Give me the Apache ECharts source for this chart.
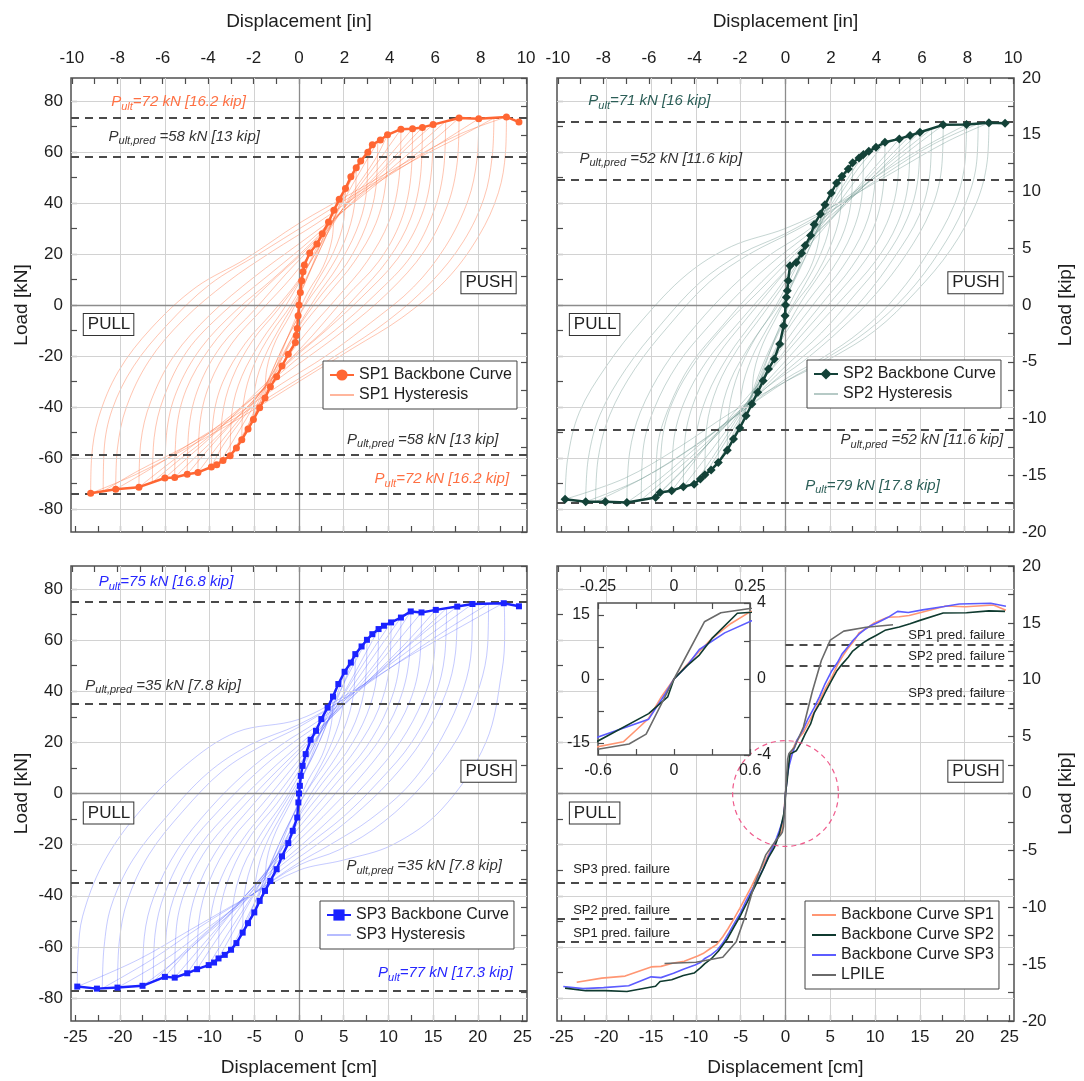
<!DOCTYPE html>
<html><head><meta charset="utf-8">
<script src="https://cdn.jsdelivr.net/npm/echarts@6/dist/echarts.min.js"></script>
<style>html,body{margin:0;padding:0;background:#fff}#c{width:1084px;height:1081px}</style>
</head><body><div id="c"></div>
<script>
const FONT = '"Liberation Sans", Arial, sans-serif';
// ---------- tick labels ----------
const cmLabels=[-25,-20,-15,-10,-5,0,5,10,15,20,25];
const cmTicks=[-25,-22.5,-20,-17.5,-15,-12.5,-10,-7.5,-5,-2.5,0,2.5,5,7.5,10,12.5,15,17.5,20,22.5,25];
const inLabels=[-10,-8,-6,-4,-2,0,2,4,6,8,10];
const inTicks=[-10,-9,-8,-7,-6,-5,-4,-3,-2,-1,0,1,2,3,4,5,6,7,8,9,10];
const kNLabels=[-80,-60,-40,-20,0,20,40,60,80];
const kNTicks=[-80,-70,-60,-50,-40,-30,-20,-10,0,10,20,30,40,50,60,70,80];
const kipLabels=[-20,-15,-10,-5,0,5,10,15,20];
const kipTicks=[-20,-17.5,-15,-12.5,-10,-7.5,-5,-2.5,0,2.5,5,7.5,10,12.5,15,17.5,20];
const gridXVals=[-20,-15,-10,-5,5,10,15,20];
const gridYVals=[-80,-60,-40,-20,20,40,60,80];
const insetCmLabels=[-0.6,0,0.6], insetCmTicks=[-0.6,-0.3,0,0.3,0.6];
const insetInLabels=[-0.25,0,0.25], insetInTicks=[-0.25,-0.125,0,0.125,0.25];
const insetKNLabels=[-15,0,15], insetKNTicks=[-15,-7.5,0,7.5,15];
const insetKipLabels=[-4,0,4], insetKipTicks=[-4,-2,0,2,4];

// ---------- backbone curves [cm, kN] ----------
const sp1Backbone=[[-23.3,-73.8],[-20.5,-72.2],[-17.9,-71.4],[-15.0,-67.8],[-13.9,-67.6],[-12.5,-66.3],[-11.3,-65.6],[-9.8,-63.5],[-9.2,-62.6],[-8.5,-60.9],[-7.7,-59.1],[-7.0,-56.0],[-6.4,-52.8],[-5.7,-48.6],[-5.1,-44.9],[-4.4,-40.3],[-3.8,-36.4],[-3.2,-32.0],[-2.5,-28.1],[-1.9,-23.9],[-1.2,-19.3],[-0.4,-14.7],[-0.3,-12],[-0.2,-9.2],[-0.1,-4.2],[0,0],[0.15,4.9],[0.3,9.5],[0.45,13],[0.6,15.7],[1.2,20.4],[2.0,23.9],[2.6,27.9],[3.3,32.5],[3.9,37.1],[4.5,41.4],[5.2,45.7],[5.8,50.3],[6.4,53.8],[6.9,56.4],[7.7,59.9],[8.2,62.8],[9.1,64.7],[9.9,66.7],[11.4,68.9],[12.7,69.1],[13.8,69.6],[15.0,70.7],[17.9,73.3],[20.1,73.0],[23.2,73.7],[24.6,71.7]];
const sp2Backbone=[[-24.6,-76.1],[-22.3,-77.1],[-20.1,-77.1],[-17.7,-77.4],[-14.5,-75.4],[-14.0,-73.5],[-12.7,-72.8],[-11.4,-71.2],[-10.2,-70.2],[-9.5,-68.2],[-9.0,-66.5],[-8.3,-64.7],[-7.5,-61.7],[-6.5,-56.9],[-5.8,-52.5],[-5.1,-48.2],[-4.4,-43.4],[-3.75,-38.8],[-3.1,-34.2],[-2.5,-29.7],[-1.9,-25.1],[-1.25,-21.2],[-0.65,-15.3],[-0.2,-8.1],[-0.05,-4.2],[0,0],[0.1,3.0],[0.2,5.6],[0.3,9.5],[0.5,15.4],[1.2,16.7],[1.8,20.3],[2.2,23.3],[2.8,27.2],[3.2,31.5],[3.9,35.7],[4.4,39.3],[5.1,43.9],[5.7,47.8],[6.3,50.5],[7.0,53.3],[7.5,55.7],[8.2,57.6],[8.7,59.0],[9.3,60.3],[10.1,61.8],[11.1,63.8],[12.7,65.1],[13.9,66.4],[15.0,67.7],[17.6,70.6],[20.2,70.7],[22.7,71.4],[24.5,71.2]];
const sp3Backbone=[[-24.8,-75.5],[-22.6,-76.3],[-20.3,-75.9],[-17.5,-75.2],[-15.0,-71.7],[-13.9,-72.0],[-12.5,-70.3],[-11.4,-68.7],[-10.1,-67.1],[-9.5,-66.1],[-9.0,-64.5],[-8.3,-63.1],[-7.6,-61.1],[-7.0,-58.5],[-6.3,-54.4],[-5.7,-50.7],[-5.0,-46.5],[-4.4,-42.0],[-3.8,-38.1],[-3.2,-34.2],[-2.5,-29.6],[-1.9,-24.6],[-1.2,-19.4],[-0.7,-14.6],[-0.2,-9.4],[-0.07,-3.5],[0,0],[0.1,3.0],[0.2,6.9],[0.4,10.8],[0.75,15.4],[1.3,21.0],[1.9,24.5],[2.5,29.1],[3.2,33.6],[3.8,37.9],[4.4,42.8],[5.1,47.6],[5.8,51.2],[6.3,54.5],[7.0,57.5],[7.6,60.1],[8.2,62.3],[8.9,64.3],[9.5,65.6],[10.3,66.9],[11.4,68.8],[12.5,71.2],[13.7,70.8],[15.3,71.8],[17.7,73.1],[19.4,74.1],[22.9,74.4],[24.6,73.2]];
const lpile=[[-13.5,-66.5],[-10,-66],[-7,-64],[-5.5,-58],[-4.5,-48],[-3.5,-36],[-2.2,-24],[-1,-18],[-0.59,-16.4],[-0.355,-15.2],[-0.22,-12.9],[0,0],[0.24,13.4],[0.37,15.5],[0.6,16.5],[1,18],[2,26],[3,40],[4,52],[5,60],[6.5,63.5],[9,65],[12,66]];

// ---------- hysteresis loops [cm, kN] (reloading branch then unloading branch) ----------
const sp1Loops=[
[[-23.3,-73.8],[-23.2,-60],[-22.4,-44],[-20.2,-26],[-16.5,-9],[-11.5,7],[-6,18],[0,32],[6,44],[12,56],[18,67],[23.2,73.7],[23.1,60],[22.3,44],[20.1,27],[16.5,10],[11.5,-5],[6,-17],[0,-30],[-6,-43],[-12,-55],[-18,-66],[-23.3,-73.8]],
[[-21.9,-73],[-21.8,-57],[-20.9,-41],[-18.5,-24],[-14.8,-8],[-10,8],[-4.5,20],[1,32],[7,45],[13,57],[18,66],[21.8,73.3],[21.6,58],[20.7,42],[18.4,25],[14.8,9],[10,-6],[4.5,-19],[-1,-31],[-7,-44],[-13,-56],[-18,-65],[-21.9,-73]],
[[-20.5,-72.2],[-20.3,-56],[-19.3,-40],[-16.8,-22],[-13,-6],[-8,9],[-3,21],[2,32],[7,44],[12,55],[16.5,65],[20.1,73],[19.9,57],[18.9,41],[16.4,23],[12.8,7],[8,-7],[3,-20],[-2,-31],[-7,-43],[-12,-54],[-16.5,-64],[-20.5,-72.2]],
[[-17.9,-71.4],[-17.7,-54],[-16.6,-38],[-14,-20],[-10,-4],[-5,11],[0,24],[5,37],[10,51],[14.5,63],[17.9,73.3],[17.7,56],[16.6,39],[14,21],[10,5],[5,-10],[0,-23],[-5,-36],[-10,-50],[-14.5,-62],[-17.9,-71.4]],
[[-16.4,-69.5],[-16.2,-52],[-15.1,-36],[-12.5,-18],[-8.5,-3],[-4,10],[0.5,23],[5,37],[9.5,51],[13.5,63],[16.4,72],[16.2,54],[15.1,37],[12.5,19],[8.5,4],[4,-10],[-0.5,-22],[-5,-36],[-9.5,-50],[-13.5,-61],[-16.4,-69.5]],
[[-15,-67.8],[-14.8,-50],[-13.7,-34],[-11,-17],[-7,-2],[-3,10],[1,23],[5,37],[9,51],[12.5,63],[15,70.7],[14.8,52],[13.7,35],[11,18],[7,3],[3,-10],[-1,-22],[-5,-35],[-9,-49],[-12.5,-60],[-15,-67.8]],
[[-13.9,-67.6],[-13.7,-49],[-12.6,-33],[-10,-17],[-6.3,-2],[-2.5,11],[1.5,24],[5,38],[9,52],[12,63],[13.8,69.6],[13.6,51],[12.5,34],[10,18],[6.3,3],[2.5,-11],[-1.5,-23],[-5,-37],[-9,-51],[-12,-61],[-13.9,-67.6]],
[[-12.5,-66.3],[-12.3,-48],[-11.2,-32],[-8.7,-16],[-5,-2],[-1.5,12],[2,25],[5.5,40],[9,54],[12.7,69.1],[12.5,50],[11.4,33],[8.9,17],[5.2,3],[1.5,-12],[-2,-25],[-5.5,-39],[-9,-52],[-12.5,-66.3]],
[[-11.3,-65.6],[-11.1,-47],[-10,-31],[-7.5,-15],[-4.2,-2],[-0.8,11],[2.5,26],[5.8,42],[8.8,56],[11.4,68.9],[11.2,50],[10.1,33],[7.6,17],[4.3,3],[0.8,-11],[-2.5,-26],[-5.8,-41],[-8.8,-54],[-11.3,-65.6]],
[[-9.8,-63.5],[-9.6,-45],[-8.5,-30],[-6,-15],[-3,-3],[0,10],[3,27],[6,44],[8.5,57],[9.9,66.7],[9.7,48],[8.6,32],[6.2,17],[3.2,4],[0,-10],[-3,-27],[-6,-43],[-8.5,-55],[-9.8,-63.5]],
[[-8.8,-61.5],[-8.6,-44],[-7.5,-29],[-5.2,-14],[-2.4,-2],[0.3,11],[3,28],[5.8,46],[8.8,64],[8.6,46],[7.5,31],[5.3,16],[2.5,4],[-0.3,-10],[-3,-27],[-5.8,-44],[-8.8,-61.5]],
[[-7.7,-59.1],[-7.5,-42],[-6.4,-28],[-4.2,-14],[-1.8,-2],[0.5,12],[3,30],[5.5,47],[7.7,59.9],[7.5,43],[6.4,29],[4.3,15],[1.9,3],[-0.5,-11],[-3,-29],[-5.5,-46],[-7.7,-59.1]],
[[-6.4,-52.8],[-6.2,-38],[-5.1,-24],[-3.1,-11],[-0.9,0],[1.3,14],[3.8,33],[6.4,53.8],[6.2,39],[5.1,25],[3.1,12],[0.9,1],[-1.3,-13],[-3.8,-32],[-6.4,-52.8]],
[[-5.1,-44.9],[-4.9,-32],[-3.8,-20],[-2,-8],[0,4],[2,19],[3.8,33],[5.2,45.7],[5,33],[3.9,21],[2,9],[0,-4],[-2,-18],[-3.7,-32],[-5.1,-44.9]],
[[-3.8,-36.4],[-3.6,-25],[-2.6,-14],[-1,-4],[0.6,8],[2.2,22],[3.9,37.1],[3.7,26],[2.7,15],[1,5],[-0.6,-7],[-2.2,-21],[-3.8,-36.4]]
];
const sp2Loops=[
[[-24.6,-76.1],[-24.3,-60],[-23,-42],[-20,-24],[-16,-6],[-11,12],[-6,23],[0,30],[6,40],[12,52],[18,64],[22.7,71.4],[22.5,56],[21.3,40],[18.5,22],[14.5,5],[10,-10],[5,-21],[0,-30],[-6,-42],[-12,-56],[-18,-68],[-24.6,-76.1]],
[[-22.3,-77.1],[-22,-60],[-20.7,-43],[-17.8,-25],[-14,-8],[-9.5,9],[-5,20],[0,28],[5,38],[10,50],[15.5,62],[20.2,70.7],[20,55],[18.8,39],[16,21],[12.5,4],[8.5,-10],[4,-21],[0,-29],[-5,-42],[-10,-55],[-16,-68],[-22.3,-77.1]],
[[-21.2,-77.1],[-20.9,-60],[-19.6,-43],[-16.8,-25],[-13,-8],[-8.5,9],[-4,20],[1,29],[6,39],[11,51],[16.5,63],[21.5,71],[21.3,55],[20,39],[17.2,21],[13.5,4],[9.2,-10],[4.5,-21],[0,-30],[-5,-42],[-10.5,-56],[-16,-68],[-21.2,-77.1]],
[[-17.7,-77.4],[-17.4,-58],[-16.2,-42],[-13.5,-24],[-10,-8],[-6,7],[-2,19],[2,28],[6,39],[10,50],[14,61],[17.6,70.6],[17.4,53],[16.2,37],[13.5,20],[10,4],[6,-10],[2,-22],[-2,-32],[-6,-44],[-10,-56],[-14,-68],[-17.7,-77.4]],
[[-16.1,-76.4],[-15.9,-57],[-14.7,-41],[-12,-23],[-8.5,-8],[-4.8,6],[-1,18],[3,29],[7,41],[11,54],[16.3,69],[16.1,51],[14.9,35],[12.2,19],[8.8,3],[5,-11],[1,-23],[-3,-35],[-7,-48],[-11,-61],[-16.1,-76.4]],
[[-14.5,-75.4],[-14.3,-56],[-13,-40],[-10.5,-23],[-7,-8],[-3.5,6],[0,18],[4,30],[8,44],[12,58],[15,67.7],[14.8,50],[13.6,34],[11,18],[7.5,3],[4,-11],[0,-24],[-4,-38],[-8,-52],[-11.5,-65],[-14.5,-75.4]],
[[-14,-73.5],[-13.8,-54],[-12.6,-38],[-10,-22],[-6.5,-7],[-2.8,6],[0.8,19],[4.5,32],[8.5,47],[13.9,66.4],[13.7,48],[12.5,32],[10,17],[6.5,3],[2.8,-11],[-0.8,-25],[-4.5,-39],[-8.5,-54],[-14,-73.5]],
[[-12.7,-72.8],[-12.5,-54],[-11.3,-38],[-8.8,-22],[-5.5,-8],[-2,6],[1.5,19],[5,33],[9,50],[12.7,65.1],[12.5,48],[11.3,32],[8.8,17],[5.5,3],[2,-11],[-1.5,-25],[-5,-39],[-9,-56],[-12.7,-72.8]],
[[-11.4,-71.2],[-11.2,-52],[-10,-36],[-7.6,-20],[-4.5,-6],[-1.2,8],[2,22],[5.3,37],[8.5,52],[11.1,63.8],[10.9,46],[9.8,30],[7.4,15],[4.4,2],[1.2,-12],[-2,-27],[-5.3,-43],[-8.5,-58],[-11.4,-71.2]],
[[-10.2,-70.2],[-10,-52],[-8.8,-36],[-6.4,-20],[-3.5,-6],[-0.5,8],[2.5,24],[5.5,40],[8,53],[10.1,61.8],[9.9,45],[8.8,30],[6.4,15],[3.5,2],[0.5,-12],[-2.5,-28],[-5.5,-45],[-8,-59],[-10.2,-70.2]],
[[-9,-66.5],[-8.8,-48],[-7.6,-32],[-5.3,-17],[-2.6,-4],[0,9],[2.6,24],[5.4,41],[8.7,59],[8.5,42],[7.4,28],[5.2,14],[2.6,2],[0,-11],[-2.6,-28],[-5.4,-46],[-9,-66.5]],
[[-7.5,-61.7],[-7.3,-45],[-6.2,-30],[-4,-16],[-1.7,-4],[0.5,10],[2.8,26],[5.2,42],[7.5,55.7],[7.3,40],[6.2,26],[4,13],[1.7,1],[-0.5,-13],[-2.8,-29],[-5.2,-46],[-7.5,-61.7]],
[[-6.5,-56.9],[-6.3,-41],[-5.2,-26],[-3.2,-12],[-1,-1],[1.2,12],[3.7,30],[6.3,50.5],[6.1,36],[5,23],[3.1,10],[1,0],[-1.2,-14],[-3.7,-35],[-6.5,-56.9]],
[[-5.1,-48.2],[-4.9,-34],[-3.8,-21],[-2,-9],[0,3],[2,17],[3.7,31],[5.1,43.9],[4.9,31],[3.8,19],[2,7],[0,-5],[-2,-19],[-3.7,-34],[-5.1,-48.2]],
[[-3.75,-38.8],[-3.5,-26],[-2.5,-15],[-0.9,-4],[0.6,7],[2.2,21],[3.9,35.7],[3.7,25],[2.7,14],[1,4],[-0.6,-8],[-2.2,-23],[-3.75,-38.8]]
];
const sp3Loops=[
[[-24.8,-75.5],[-24.7,-62],[-24.2,-48],[-22,-28],[-18.3,-9],[-12.7,11],[-7,24],[0,29],[6,40],[12,53],[18,65],[22.9,74.4],[23,62],[22.7,48],[20.9,20],[16,-6],[10.5,-20],[5,-26],[0,-30],[-6,-41],[-12,-53],[-18,-65],[-24.8,-75.5]],
[[-22,-76.2],[-21.8,-60],[-21,-44],[-18.6,-26],[-14.8,-9],[-10.2,8],[-5.5,19],[0,27],[5.5,38],[11,51],[16.5,64],[21.2,74.2],[21.1,58],[20.2,42],[17.8,22],[14,4],[9.5,-11],[4.5,-22],[0,-28],[-5.5,-40],[-11,-52],[-16.5,-65],[-22,-76.2]],
[[-20.3,-75.9],[-20.1,-58],[-19.2,-42],[-16.8,-24],[-13,-7],[-8.5,9],[-4,19],[0,26],[5,37],[10,50],[15,63],[19.4,74.1],[19.3,57],[18.4,41],[16,22],[12.5,4],[8,-10],[3.5,-20],[0,-27],[-5,-39],[-10,-52],[-15,-65],[-20.3,-75.9]],
[[-17.5,-75.2],[-17.3,-56],[-16.2,-40],[-13.6,-22],[-10,-6],[-6,8],[-2,19],[2,28],[6,39],[10,51],[14,63],[17.7,73.1],[17.5,55],[16.4,39],[13.8,21],[10.2,5],[6,-9],[2,-20],[-2,-30],[-6,-42],[-10,-54],[-14,-66],[-17.5,-75.2]],
[[-16.3,-73.5],[-16.1,-55],[-15,-39],[-12.4,-21],[-8.8,-6],[-4.8,8],[-1,19],[3,29],[7,41],[11,54],[16.5,72.5],[16.3,54],[15.2,38],[12.6,20],[9,5],[5,-9],[1,-20],[-3,-31],[-7,-44],[-11,-56],[-16.3,-73.5]],
[[-15,-71.7],[-14.8,-53],[-13.6,-37],[-11,-20],[-7.5,-6],[-3.5,8],[0,19],[4,31],[8,45],[12,59],[15.3,71.8],[15.1,53],[13.9,37],[11.3,20],[7.8,5],[3.8,-9],[0,-21],[-4,-33],[-8,-47],[-12,-60],[-15,-71.7]],
[[-13.9,-72],[-13.7,-52],[-12.5,-36],[-10,-20],[-6.5,-6],[-2.7,8],[0.8,20],[4.5,33],[8.5,49],[13.7,70.8],[13.5,52],[12.4,36],[9.9,20],[6.5,5],[2.7,-9],[-0.8,-21],[-4.5,-34],[-8.5,-50],[-13.9,-72]],
[[-12.5,-70.3],[-12.3,-51],[-11.1,-35],[-8.6,-19],[-5.3,-5],[-1.8,9],[1.6,22],[5,36],[9,53],[12.5,71.2],[12.3,52],[11.1,35],[8.6,19],[5.3,5],[1.8,-9],[-1.6,-22],[-5,-36],[-9,-53],[-12.5,-70.3]],
[[-11.4,-68.7],[-11.2,-50],[-10,-34],[-7.5,-18],[-4.3,-5],[-1,9],[2.2,23],[5.4,39],[8.6,55],[11.4,68.8],[11.2,50],[10,34],[7.5,18],[4.4,5],[1,-9],[-2.2,-23],[-5.4,-39],[-8.6,-54],[-11.4,-68.7]],
[[-10.1,-67.1],[-9.9,-49],[-8.7,-33],[-6.3,-18],[-3.4,-5],[-0.4,9],[2.6,25],[5.6,42],[8.2,56],[10.3,66.9],[10.1,49],[8.9,33],[6.5,18],[3.6,5],[0.4,-9],[-2.6,-25],[-5.6,-42],[-8,-55],[-10.1,-67.1]],
[[-9,-64.5],[-8.8,-46],[-7.6,-31],[-5.3,-16],[-2.5,-4],[0.2,10],[2.8,26],[5.6,43],[8.9,64.3],[8.7,46],[7.6,31],[5.3,16],[2.6,4],[-0.2,-10],[-2.8,-26],[-5.6,-43],[-9,-64.5]],
[[-7.6,-61.1],[-7.4,-44],[-6.3,-29],[-4.1,-15],[-1.7,-3],[0.6,11],[2.9,28],[5.3,45],[7.6,60.1],[7.4,43],[6.3,28],[4.1,14],[1.7,2],[-0.6,-12],[-2.9,-29],[-5.3,-45],[-7.6,-61.1]],
[[-6.3,-54.4],[-6.1,-39],[-5,-25],[-3,-12],[-0.9,0],[1.3,13],[3.7,32],[6.3,54.5],[6.1,39],[5,25],[3,12],[0.9,1],[-1.3,-13],[-3.7,-32],[-6.3,-54.4]],
[[-5,-46.5],[-4.8,-33],[-3.7,-20],[-1.9,-8],[0,4],[2,18],[3.7,33],[5.1,47.6],[4.9,34],[3.8,21],[2,8],[0,-4],[-2,-18],[-3.7,-32],[-5,-46.5]],
[[-3.8,-38.1],[-3.6,-26],[-2.6,-15],[-1,-4],[0.6,8],[2.2,22],[3.8,37.9],[3.6,27],[2.6,15],[1,5],[-0.6,-8],[-2.2,-22],[-3.8,-38.1]]
];

// ---------- reference lines (kN) ----------
const sp1Lines=[73.5,58,-58.5,-73.8];
const sp2Lines=[72,49,-49,-77.6];
const sp3Lines=[75,35,-35,-77];
const predPos=[58,50,35];      // SP1, SP2, SP3 (push side)
const predNeg=[-58,-49,-35];   // SP1, SP2, SP3 (pull side)

// ---------- styling constants ----------
const CM=25.5, IN=25.5/2.54, KN=88.96, KIP=20;
const C1='#ff6633', C2='#134238', C3='#1a22ff';
const H1='rgba(255,110,60,0.5)', H2='rgba(110,150,142,0.5)', H3='rgba(80,95,255,0.42)';
const L1='#ff7043', L2='#2b5e57', L3='#2626ff';
const B1='#ff9673', B2='#0f3a2f', B3='#5c5cff', BL='#6a6a6a';
const AX='#4d4d4d', TXT='#1e1e1e';

const G=[
 {left:71, top:78, width:456, height:454},
 {left:557, top:78, width:457, height:454},
 {left:71, top:566, width:456, height:455},
 {left:557, top:566, width:457, height:455},
 {left:598, top:603, width:152, height:152}
];

const xAxes=[], yAxes=[];
const noLine={show:false, onZero:false};
function tick(vals){return {show:true, inside:true, length:6, customValues:vals, lineStyle:{color:AX, width:1.2}};}
for(let g=0; g<4; g++){
  const bottom=g>=2, left=g%2===0;
  xAxes.push({type:'value', gridIndex:g, position:'bottom', min:-CM, max:CM, axisLine:noLine, splitLine:{show:false},
    axisTick:tick(cmTicks), axisLabel:{show:bottom, customValues:cmLabels, fontSize:17, color:TXT, margin:8, fontFamily:FONT},
    name: bottom?'Displacement [cm]':'', nameLocation:'middle', nameGap:37, nameTextStyle:{fontSize:19, color:TXT, fontFamily:FONT}});
  xAxes.push({type:'value', gridIndex:g, position:'top', min:-IN, max:IN, axisLine:noLine, splitLine:{show:false},
    axisTick:tick(inTicks), axisLabel:{show:!bottom, customValues:inLabels, fontSize:17, color:TXT, margin:11, fontFamily:FONT},
    name: !bottom?'Displacement [in]':'', nameLocation:'middle', nameGap:47, nameTextStyle:{fontSize:19, color:TXT, fontFamily:FONT}});
  yAxes.push({type:'value', gridIndex:g, position:'left', min:-KN, max:KN, axisLine:noLine, splitLine:{show:false},
    axisTick:tick(kNTicks), axisLabel:{show:left, customValues:kNLabels, fontSize:17, color:TXT, margin:8, fontFamily:FONT},
    name: left?'Load [kN]':'', nameLocation:'middle', nameGap:40, nameRotate:90, nameTextStyle:{fontSize:19, color:TXT, fontFamily:FONT}});
  yAxes.push({type:'value', gridIndex:g, position:'right', min:-KIP, max:KIP, axisLine:noLine, splitLine:{show:false},
    axisTick:tick(kipTicks), axisLabel:{show:!left, customValues:kipLabels, fontSize:17, color:TXT, margin:8, fontFamily:FONT},
    name: !left?'Load [kip]':'', nameLocation:'middle', nameGap:42, nameRotate:90, nameTextStyle:{fontSize:19, color:TXT, fontFamily:FONT}});
}
// inset axes
xAxes.push({type:'value', gridIndex:4, z:21, position:'bottom', min:-0.6, max:0.6, axisLine:noLine, splitLine:{show:false},
  axisTick:tick(insetCmTicks), axisLabel:{customValues:insetCmLabels, fontSize:16, color:TXT, margin:8, fontFamily:FONT}});
xAxes.push({type:'value', gridIndex:4, z:21, position:'top', min:-0.25, max:0.25, axisLine:noLine, splitLine:{show:false},
  axisTick:tick(insetInTicks), axisLabel:{customValues:insetInLabels, fontSize:16, color:TXT, margin:8, fontFamily:FONT}});
yAxes.push({type:'value', gridIndex:4, z:21, position:'left', min:-17.79, max:17.79, axisLine:noLine, splitLine:{show:false},
  axisTick:tick(insetKNTicks), axisLabel:{customValues:insetKNLabels, fontSize:16, color:TXT, margin:8, fontFamily:FONT}});
yAxes.push({type:'value', gridIndex:4, z:21, position:'right', min:-4, max:4, axisLine:noLine, splitLine:{show:false},
  axisTick:tick(insetKipTicks), axisLabel:{customValues:insetKipLabels, fontSize:16, color:TXT, margin:7, fontFamily:FONT}});

const series=[];
function gridLinesSeries(g, xv, yv, z){
  const d=[];
  xv.forEach(v=>d.push({xAxis:v}));
  yv.forEach(v=>d.push({yAxis:v}));
  d.push({xAxis:0, lineStyle:{color:'#8c8c8c', width:1.3, type:'solid'}});
  d.push({yAxis:0, lineStyle:{color:'#8c8c8c', width:1.3, type:'solid'}});
  return {type:'line', xAxisIndex:2*g, yAxisIndex:2*g, data:[], silent:true, z:z,
    markLine:{silent:true, symbol:['none','none'], label:{show:false}, animation:false,
      lineStyle:{color:'#d2d2d2', width:1, type:'solid'}, data:d}};
}
for(let g=0; g<4; g++) series.push(gridLinesSeries(g, gridXVals, gridYVals, 1));
series.push(gridLinesSeries(4, [], [], 21));

function dashSeries(g, items){
  return {type:'line', xAxisIndex:2*g, yAxisIndex:2*g, data:[], silent:true, z:5,
    markLine:{silent:true, symbol:['none','none'], label:{show:false}, animation:false,
      lineStyle:{color:'#4a4a4a', width:2, type:[8,6]}, data:items}};
}
series.push(dashSeries(0, sp1Lines.map(v=>({yAxis:v}))));
series.push(dashSeries(1, sp2Lines.map(v=>({yAxis:v}))));
series.push(dashSeries(2, sp3Lines.map(v=>({yAxis:v}))));
series.push(dashSeries(3, predPos.map(v=>[{coord:[0,v]},{coord:[CM,v]}]).concat(predNeg.map(v=>[{coord:[-CM,v]},{coord:[0,v]}]))));

function hyst(g, name, loops, color){
  loops.forEach(loop=>series.push({type:'line', name:name, xAxisIndex:2*g, yAxisIndex:2*g, data:loop, showSymbol:false, symbol:'none',
    smooth:0.35, silent:true, z:2, color:color, lineStyle:{color:color, width:0.8}}));
}
hyst(0,'SP1 Hysteresis',sp1Loops,H1);
hyst(1,'SP2 Hysteresis',sp2Loops,H2);
hyst(2,'SP3 Hysteresis',sp3Loops,H3);

function backbone(g, name, data, color, symbol, size){
  series.push({type:'line', name:name, xAxisIndex:2*g, yAxisIndex:2*g, data:data, symbol:symbol, symbolSize:size, showSymbol:true,
    silent:true, z:6, color:color, itemStyle:{color:color}, lineStyle:{color:color, width:2.5}});
}
backbone(0,'SP1 Backbone Curve',sp1Backbone,C1,'circle',7);
backbone(1,'SP2 Backbone Curve',sp2Backbone,C2,'diamond',9);
backbone(2,'SP3 Backbone Curve',sp3Backbone,C3,'rect',6);

function plain(g, name, data, color, z){
  const s={type:'line', xAxisIndex:2*g, yAxisIndex:2*g, data:data, showSymbol:false, symbol:'none', silent:true, z:z,
    color:color, lineStyle:{color:color, width:1.6}};
  if(name) s.name=name;
  series.push(s);
}
plain(3,'Backbone Curve SP1',sp1Backbone,B1,6);
plain(3,'Backbone Curve SP3',sp3Backbone,B3,6);
plain(3,'Backbone Curve SP2',sp2Backbone,B2,6);
plain(3,'LPILE',lpile,BL,6);
plain(4,null,sp1Backbone,B1,22);
plain(4,null,sp3Backbone,B3,22);
plain(4,null,sp2Backbone,B2,22);
plain(4,null,lpile,BL,22);

const legCommon={orient:'vertical', selectedMode:false, borderColor:'#444', borderWidth:1, backgroundColor:'#fff',
  padding:[6,5,6,6], itemGap:4, itemWidth:24, itemHeight:14, textStyle:{fontSize:16, color:TXT, fontFamily:FONT}, z:10};
function lineOnly(n){return {name:n, itemStyle:{opacity:0}};}
const legends=[
  Object.assign({data:['SP1 Backbone Curve',lineOnly('SP1 Hysteresis')], left:323, top:361}, legCommon),
  Object.assign({data:['SP2 Backbone Curve',lineOnly('SP2 Hysteresis')], left:807, top:360}, legCommon),
  Object.assign({data:['SP3 Backbone Curve',lineOnly('SP3 Hysteresis')], left:320, top:901}, legCommon),
  Object.assign({data:[lineOnly('Backbone Curve SP1'),lineOnly('Backbone Curve SP2'),lineOnly('Backbone Curve SP3'),lineOnly('LPILE')], left:805, top:901}, legCommon)
];

const option={
  animation:false, backgroundColor:'#fff', textStyle:{fontFamily:FONT},
  grid:G.map((g,i)=>({left:g.left, top:g.top, width:g.width, height:g.height, show:true, borderColor:'#505050', borderWidth:1.5,
    backgroundColor:i===4?'#fff':'transparent', z:i===4?20:0})),
  xAxis:xAxes, yAxis:yAxes, legend:legends, series:series
};
const chart=echarts.init(document.getElementById('c'));
chart.setOption(option);

// ---------- annotations ----------
const annotations=[
 {g:0, sub:'ult', tail:'=72 kN [16.2 kip]', x:-21, y:79.5, align:'left', color:L1},
 {g:0, sub:'ult,pred', tail:' =58 kN [13 kip]', x:-21.3, y:66, align:'left', color:'#333'},
 {g:0, sub:'ult,pred', tail:' =58 kN [13 kip]', x:22.3, y:-52.7, align:'right', color:'#333'},
 {g:0, sub:'ult', tail:'=72 kN [16.2 kip]', x:23.5, y:-68.2, align:'right', color:L1},
 {g:1, sub:'ult', tail:'=71 kN [16 kip]', x:-22, y:79.9, align:'left', color:L2},
 {g:1, sub:'ult,pred', tail:' =52 kN [11.6 kip]', x:-23, y:57.3, align:'left', color:'#333'},
 {g:1, sub:'ult,pred', tail:' =52 kN [11.6 kip]', x:24.3, y:-53, align:'right', color:'#333'},
 {g:1, sub:'ult', tail:'=79 kN [17.8 kip]', x:2.2, y:-70.7, align:'left', color:L2},
 {g:2, sub:'ult', tail:'=75 kN [16.8 kip]', x:-22.4, y:82.7, align:'left', color:L3},
 {g:2, sub:'ult,pred', tail:' =35 kN [7.8 kip]', x:-23.9, y:42.2, align:'left', color:'#333'},
 {g:2, sub:'ult,pred', tail:' =35 kN [7.8 kip]', x:22.7, y:-28.4, align:'right', color:'#333'},
 {g:2, sub:'ult', tail:'=77 kN [17.3 kip]', x:23.9, y:-70.2, align:'right', color:L3},
];
const failLabels=[
 {text:'SP1 pred. failure', x:24.5, y:61.8, align:'right'},
 {text:'SP2 pred. failure', x:24.5, y:53.6, align:'right'},
 {text:'SP3 pred. failure', x:24.5, y:39.1, align:'right'},
 {text:'SP3 pred. failure', x:-23.7, y:-29.5, align:'left'},
 {text:'SP2 pred. failure', x:-23.7, y:-45.6, align:'left'},
 {text:'SP1 pred. failure', x:-23.7, y:-54.6, align:'left'},
];
const pushPull=[{text:'PUSH', x:21.2, y:8.7},{text:'PULL', x:-21.3, y:-7.6}];
const circleR=5.9;

function toPx(g,x,y){return chart.convertToPixel({xAxisIndex:2*g, yAxisIndex:2*g},[x,y]);}
const gr=[];
annotations.forEach(a=>{
  const p=toPx(a.g,a.x,a.y);
  gr.push({type:'text', x:p[0], y:p[1], z:30, silent:true, style:{
    text:'{m|P}{s|'+a.sub+'}{m|'+a.tail+'}',
    rich:{m:{fontSize:15, fontStyle:'italic', fill:a.color, color:a.color, fontFamily:FONT},
          s:{fontSize:11, fontStyle:'italic', fill:a.color, color:a.color, fontFamily:FONT, padding:[9,0,0,0]}},
    fill:a.color, align:a.align, verticalAlign:'middle', textAlign:a.align, textVerticalAlign:'middle'}});
});
failLabels.forEach(a=>{
  const p=toPx(3,a.x,a.y);
  gr.push({type:'text', x:p[0], y:p[1], z:30, silent:true, style:{text:a.text, fontSize:13, fontFamily:FONT, fill:'#222',
    align:a.align, verticalAlign:'middle', textAlign:a.align, textVerticalAlign:'middle'}});
});
for(let g=0; g<4; g++){
  pushPull.forEach(b=>{
    const p=toPx(g,b.x,b.y);
    gr.push({type:'text', x:p[0], y:p[1], z:30, silent:true, style:{text:b.text, fontSize:17, fontFamily:FONT, fill:'#222',
      backgroundColor:'#fff', borderColor:'#333', borderWidth:1, padding:[3,3,1,4],
      align:'center', verticalAlign:'middle', textAlign:'center', textVerticalAlign:'middle'}});
  });
}
const c0=toPx(3,0,0), c1=toPx(3,circleR,0);
gr.push({type:'circle', z:7, silent:true, shape:{cx:c0[0], cy:c0[1], r:Math.abs(c1[0]-c0[0])},
  style:{fill:'none', stroke:'#ef5b8c', lineWidth:1.2, lineDash:[5,4]}});
chart.setOption({graphic:gr});
</script></body></html>
